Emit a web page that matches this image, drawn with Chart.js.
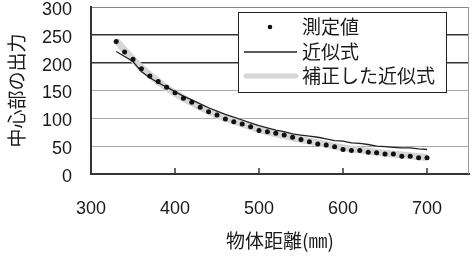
<!DOCTYPE html>
<html>
<head>
<meta charset="utf-8">
<script src="https://cdn.jsdelivr.net/npm/chart.js@4.4.0/dist/chart.umd.min.js"></script>
<style>
  html, body { margin: 0; padding: 0; background: #fff; }
  #wrap { width: 474px; height: 269px; }
</style>
</head>
<body>
<div id="wrap"><canvas id="distChart"></canvas></div>
<script>
// object distance (mm)
const distances = [330, 340, 350, 360, 370, 380, 390, 400, 410, 420, 430, 440, 450,
  460, 470, 480, 490, 500, 510, 520, 530, 540, 550, 560, 570, 580, 590, 600,
  610, 620, 630, 640, 650, 660, 670, 680, 690, 700];
// measured output of the centre part
const measured = [238, 219, 206, 189, 176, 166, 156, 146, 136, 129, 120, 112, 106,
  99, 94, 90, 85, 78, 76, 73, 70, 66, 62, 58, 54, 52, 49, 44,
  42, 42, 39, 38, 36, 36, 32, 32, 29, 29];
// approximation
const approx = [220, 211, 202, 184, 173, 164, 156, 148, 140, 133, 126, 119, 113,
  107, 102, 97, 92, 87, 83, 79, 76, 72, 70, 68, 66, 63, 60, 59,
  56, 55, 53, 50, 49, 48, 47, 47, 45, 44];
// corrected approximation
const corrected = [240, 222, 206, 191, 178, 166, 155, 145, 136, 128, 120, 113, 106,
  100, 95, 90, 85, 80, 76, 72, 69, 65, 62, 59, 56, 53, 50, 47,
  45, 43, 41, 39, 37, 36, 34, 33, 31, 30];
const xTicks = [300, 400, 500, 600, 700];
const seriesNames = ["測定値", "近似式", "補正した近似式"];

const toPoints = vals => distances.map((d, i) => ({ x: d, y: vals[i] }));

// frame, inner x ticks and boxed legend
const framePlugin = {
  id: "frame",
  afterDraw(chart) {
    const { ctx, chartArea: a, scales } = chart;
    ctx.save();
    // right border
    ctx.strokeStyle = "#999";
    ctx.lineWidth = 1;
    ctx.beginPath();
    ctx.moveTo(a.right - 0.5, a.top);
    ctx.lineTo(a.right - 0.5, a.bottom);
    ctx.stroke();
    // inner tick marks on x axis
    ctx.strokeStyle = "#333";
    ctx.lineWidth = 1.5;
    xTicks.forEach(v => {
      const px = scales.x.getPixelForValue(v);
      ctx.beginPath();
      ctx.moveTo(px, a.bottom);
      ctx.lineTo(px, a.bottom - 6);
      ctx.stroke();
    });

    // legend box
    const lx = a.left + 147, ly = a.top + 5, lw = 208, lh = 80;
    ctx.fillStyle = "#fff";
    ctx.fillRect(lx, ly, lw, lh);
    ctx.strokeStyle = "#222";
    ctx.lineWidth = 1;
    ctx.strokeRect(lx + 0.5, ly + 0.5, lw, lh);
    const rows = [ly + 15, ly + 40, ly + 64];
    const ds = chart.data.datasets;
    // dot
    ctx.fillStyle = ds[0].pointBackgroundColor;
    ctx.beginPath();
    ctx.arc(lx + 32, rows[0], 2.3, 0, Math.PI * 2);
    ctx.fill();
    // thin line
    ctx.strokeStyle = ds[1].borderColor;
    ctx.lineWidth = ds[1].borderWidth;
    ctx.beginPath();
    ctx.moveTo(lx + 6, rows[1]);
    ctx.lineTo(lx + 59, rows[1]);
    ctx.stroke();
    // thick gray line
    ctx.strokeStyle = ds[2].borderColor;
    ctx.lineWidth = 5;
    ctx.lineCap = "round";
    ctx.beginPath();
    ctx.moveTo(lx + 8, rows[2]);
    ctx.lineTo(lx + 58, rows[2]);
    ctx.stroke();
    // labels
    ctx.fillStyle = "#1a1a1a";
    ctx.font = '19px "Noto Sans CJK JP"';
    ctx.textBaseline = "middle";
    ctx.textAlign = "left";
    seriesNames.forEach((n, i) => ctx.fillText(n, lx + 64, rows[i]));
    ctx.restore();
  }
};

new Chart(document.getElementById("distChart").getContext("2d"), {
  type: "line",
  data: {
    datasets: [{
      label: seriesNames[0],
      data: toPoints(measured),
      showLine: false,
      pointRadius: 2.5,
      pointBackgroundColor: "#111",
      pointBorderWidth: 0
    }, {
      label: seriesNames[1],
      data: toPoints(approx),
      borderColor: "#222",
      borderWidth: 1.3,
      pointRadius: 0,
      tension: 0
    }, {
      label: seriesNames[2],
      data: toPoints(corrected),
      borderColor: "#d6d6d6",
      borderWidth: 7,
      pointRadius: 0,
      tension: 0.3
    }]
  },
  options: {
    responsive: true,
    maintainAspectRatio: false,
    animation: false,
    layout: { padding: { left: 0, right: 5, top: 7, bottom: 0 } },
    plugins: {
      legend: { display: false },
      tooltip: { enabled: false }
    },
    scales: {
      x: {
        type: "linear",
        min: 300,
        max: 750,
        afterBuildTicks: scale => { scale.ticks = xTicks.map(v => ({ value: v })); },
        afterFit: scale => { scale.height = 95; scale.paddingLeft = 0; scale.paddingRight = 0; },
        grid: { drawOnChartArea: false, drawTicks: false },
        border: { color: "#333", width: 2 },
        ticks: {
          padding: 24,
          color: "#1a1a1a",
          font: { family: "Liberation Sans", size: 18 }
        },
        title: {
          display: true,
          text: "物体距離(㎜)",
          color: "#1a1a1a",
          font: { family: "Noto Sans CJK JP", size: 19 },
          padding: { top: 0, bottom: 17 }
        }
      },
      y: {
        min: 0,
        max: 300,
        afterFit: scale => { scale.width = 91; scale.paddingTop = 0; scale.paddingBottom = 0; },
        grid: {
          drawTicks: false,
          color: c => {
            const v = c.tick.value;
            if (v === 200 || v === 250) return "#333";
            if (v === 300) return "#888";
            return "#aaa";
          },
          lineWidth: c => (c.tick.value === 200 || c.tick.value === 250 ? 1.5 : 1)
        },
        border: { color: "#333", width: 2 },
        ticks: {
          stepSize: 50,
          padding: 19,
          labelOffset: 3,
          color: "#1a1a1a",
          font: { family: "Liberation Sans", size: 18 }
        },
        title: {
          display: true,
          text: "中心部の出力",
          color: "#1a1a1a",
          font: { family: "Noto Sans CJK JP", size: 19 },
          padding: { top: 5, bottom: 5 }
        }
      }
    }
  },
  plugins: [framePlugin]
});
</script>
</body>
</html>
